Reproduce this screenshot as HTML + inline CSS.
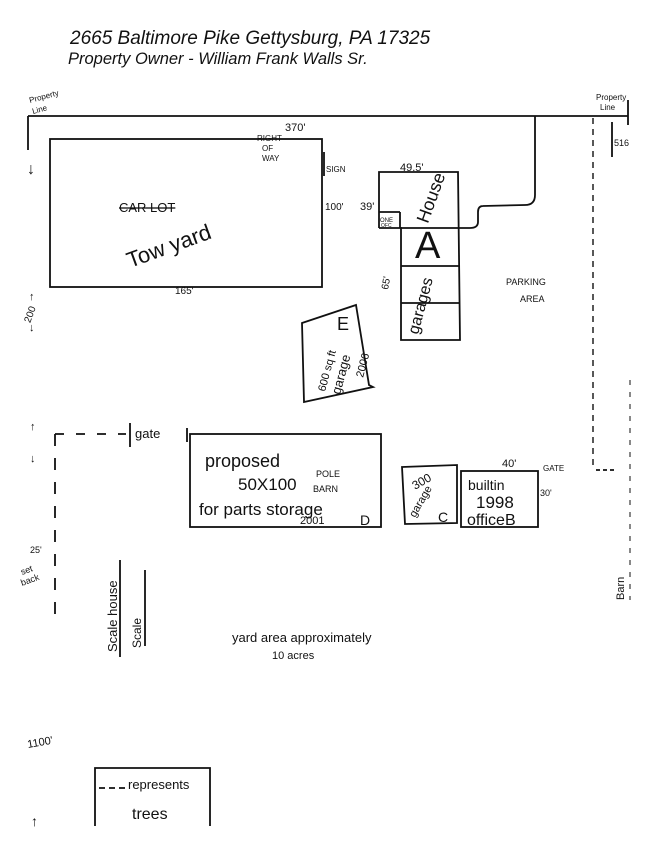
<!DOCTYPE html>
<html><head><meta charset="utf-8"><style>
html,body{margin:0;padding:0;background:#fff;}
svg{display:block;}
text{font-family:"Liberation Sans",sans-serif;fill:#111;}
</style></head><body>
<svg width="650" height="841" viewBox="0 0 650 841" xmlns="http://www.w3.org/2000/svg">
<text x="70" y="44" font-size="19" font-style="italic">2665 Baltimore Pike  Gettysburg, PA  17325</text>
<text x="68" y="64" font-size="16.5" font-style="italic">Property Owner - William Frank Walls Sr.</text>

<g stroke="#111" stroke-width="1.8" fill="none">
<line x1="28" y1="116" x2="628" y2="116"/>
<line x1="28" y1="116" x2="28" y2="150"/>
<line x1="628" y1="100" x2="628" y2="125"/>
<rect x="50" y="139" width="272" height="148"/>
<line x1="324" y1="152" x2="324" y2="176"/>
<polyline points="379,228 379,172 458,172 460,340 401,340 401,228 379,228"/>
<line x1="379" y1="212" x2="400" y2="212"/><line x1="400" y1="212" x2="400" y2="228"/>
<line x1="401" y1="228" x2="460" y2="228"/>
<line x1="401" y1="266" x2="460" y2="266"/>
<line x1="401" y1="303" x2="460" y2="303"/>
<path d="M535,116 L535,195 Q535,205 525,205 L483,206 Q478,206 478,212 L478,222 Q478,228 470,228 L460,228"/>
<line x1="593" y1="118" x2="593" y2="470" stroke-dasharray="6,5" stroke-width="1.4"/>
<line x1="596" y1="470" x2="616" y2="470" stroke-dasharray="4,3"/>
<line x1="612" y1="122" x2="612" y2="157"/>
<line x1="630" y1="380" x2="630" y2="600" stroke-dasharray="5,7" stroke-width="1"/>
<path d="M302,323 L356,305 L369,385 L373,387 L304,402 Z"/>
<line x1="55" y1="434" x2="126" y2="434" stroke-dasharray="9,12"/>
<line x1="55" y1="434" x2="55" y2="625" stroke-dasharray="12,12"/>
<line x1="130" y1="423" x2="130" y2="447"/>
<line x1="187" y1="428" x2="187" y2="442"/>
<rect x="190" y="434" width="191" height="93"/>
<path d="M402,467 L457,465 L457,523 L405,524 Z"/>
<rect x="461" y="471" width="77" height="56"/>
<line x1="120" y1="560" x2="120" y2="657"/>
<line x1="145" y1="570" x2="145" y2="646"/>
<polyline points="95,826 95,768 210,768 210,826"/>
<line x1="99" y1="788" x2="125" y2="788" stroke-dasharray="6,4"/>
</g>
<text x="30" y="103" font-size="8" transform="rotate(-15 30 103)">Property</text>
<text x="33" y="114" font-size="8" transform="rotate(-15 33 114)">Line</text>
<text x="596" y="100" font-size="8">Property</text>
<text x="600" y="110" font-size="8">Line</text>
<text x="614" y="146" font-size="9">516</text>
<text x="285" y="131" font-size="11">370'</text>
<text x="257" y="141" font-size="8">RIGHT</text>
<text x="262" y="151" font-size="8">OF</text>
<text x="262" y="161" font-size="8">WAY</text>
<text x="326" y="172" font-size="8">SIGN</text>
<text x="325" y="210" font-size="10">100'</text>
<text x="119" y="212" font-size="13" text-decoration="line-through">CAR LOT</text>
<text x="130" y="268" font-size="22" transform="rotate(-20 130 268)">Tow yard</text>
<text x="175" y="294" font-size="10">165'</text>
<text x="27" y="174" font-size="16">↓</text>
<text x="29" y="300" font-size="11">↑</text>
<text x="25" y="320" font-size="10" transform="rotate(-70 30 318)">200</text>
<text x="29" y="331" font-size="11">↓</text>
<text x="400" y="171" font-size="11">49.5'</text>
<text x="360" y="210" font-size="11">39'</text>
<text x="380" y="222" font-size="6">ONE</text>
<text x="381" y="227" font-size="5">OFC</text>
<text x="408" y="224" font-size="18" transform="rotate(-70 418 210)">House</text>
<text x="415" y="258" font-size="38">A</text>
<text x="388" y="290" font-size="10" transform="rotate(-80 388 290)">65'</text>
<text x="418" y="335" font-size="16" transform="rotate(-75 418 335)">garages</text>
<text x="506" y="285" font-size="9">PARKING</text>
<text x="520" y="302" font-size="9">AREA</text>
<text x="337" y="330" font-size="18">E</text>
<text x="325" y="392" font-size="11" fill="#888" transform="rotate(-75 325 392)">600 sq ft</text>
<text x="340" y="395" font-size="13" transform="rotate(-75 340 395)">garage</text>
<text x="363" y="378" font-size="11" transform="rotate(-75 363 378)">2006</text>
<text x="30" y="430" font-size="11">↑</text>
<text x="30" y="462" font-size="11">↓</text>
<text x="135" y="438" font-size="13">gate</text>
<text x="205" y="467" font-size="18">proposed</text>
<text x="238" y="490" font-size="17">50X100</text>
<text x="316" y="477" font-size="9">POLE</text>
<text x="313" y="492" font-size="9">BARN</text>
<text x="199" y="515" font-size="17">for parts storage</text>
<text x="300" y="524" font-size="11">2001</text>
<text x="360" y="525" font-size="14">D</text>
<text x="415" y="490" font-size="12" transform="rotate(-30 415 490)">300</text>
<text x="415" y="518" font-size="11" transform="rotate(-60 415 518)">garage</text>
<text x="438" y="522" font-size="14">C</text>
<text x="502" y="467" font-size="11">40'</text>
<text x="540" y="496" font-size="9">30'</text>
<text x="468" y="490" font-size="14">builtin</text>
<text x="476" y="508" font-size="17">1998</text>
<text x="467" y="525" font-size="16">officeB</text>
<text x="543" y="471" font-size="8">GATE</text>
<text x="624" y="600" font-size="11" transform="rotate(-90 624 600)">Barn</text>
<text x="30" y="553" font-size="9">25'</text>
<text x="22" y="575" font-size="9" transform="rotate(-20 22 575)">set</text>
<text x="22" y="586" font-size="9" transform="rotate(-20 22 586)">back</text>
<text x="117" y="652" font-size="13" transform="rotate(-90 117 652)">Scale house</text>
<text x="141" y="648" font-size="12" transform="rotate(-90 141 648)">Scale</text>
<text x="232" y="642" font-size="13">yard area  approximately</text>
<text x="272" y="659" font-size="11">10 acres</text>
<text x="28" y="748" font-size="11" transform="rotate(-10 28 748)">1100'</text>
<text x="128" y="789" font-size="13">represents</text>
<text x="132" y="819" font-size="16">trees</text>
<text x="31" y="826" font-size="14">↑</text>
</svg>
</body></html>
